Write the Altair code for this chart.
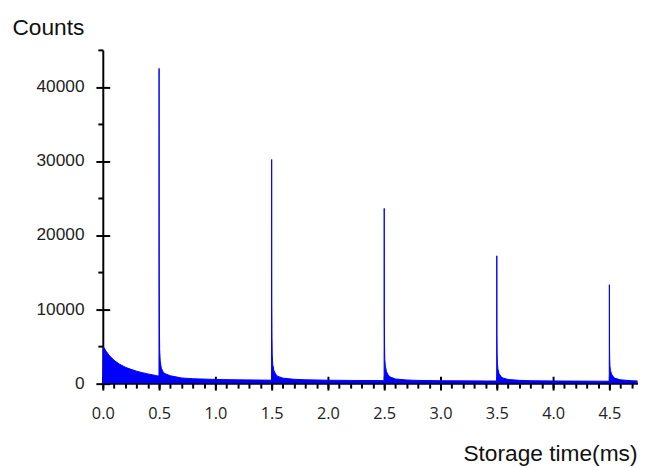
import altair as alt
import pandas as pd

# Storage time (ms) and counts
times = [
    0.0, 0.005, 0.01, 0.03, 0.06, 0.1, 0.15, 0.2, 0.25, 0.3, 0.35, 0.4, 0.45, 0.497,
    0.499, 0.5, 0.501, 0.503, 0.505, 0.51, 0.52, 0.535, 0.55, 0.6, 0.7, 0.8, 1.0, 1.2, 1.4, 1.497,
    1.499, 1.5, 1.501, 1.503, 1.505, 1.51, 1.52, 1.535, 1.55, 1.6, 1.7, 1.8, 2.0, 2.2, 2.4, 2.497,
    2.499, 2.5, 2.501, 2.503, 2.505, 2.51, 2.52, 2.535, 2.55, 2.6, 2.7, 2.8, 3.0, 3.2, 3.4, 3.497,
    3.499, 3.5, 3.501, 3.503, 3.505, 3.51, 3.52, 3.535, 3.55, 3.6, 3.7, 3.8, 4.0, 4.2, 4.4, 4.497,
    4.499, 4.5, 4.501, 4.503, 4.505, 4.51, 4.52, 4.535, 4.55, 4.6, 4.7, 4.75,
]
counts = [
    0, 4900, 4800, 4300, 3700, 3080, 2550, 2150, 1870, 1620, 1420, 1250, 1100, 950,
    1100, 42500, 14500, 7700, 4500, 3000, 2000, 1550, 1300, 1000, 700, 600, 500, 450, 420, 400,
    450, 30200, 11000, 6300, 3800, 2500, 1700, 1250, 950, 680, 520, 460, 400, 370, 350, 340,
    380, 23600, 8900, 5000, 3200, 2300, 1550, 1100, 850, 560, 430, 370, 330, 310, 300, 290,
    330, 17200, 6700, 4000, 2700, 1900, 1300, 950, 720, 500, 380, 330, 300, 280, 270, 260,
    300, 13300, 5300, 3300, 2300, 1700, 1200, 850, 650, 450, 330, 300,
]

x_major = [0.0, 0.5, 1.0, 1.5, 2.0, 2.5, 3.0, 3.5, 4.0, 4.5]
x_minor = [round(i * 0.1, 1) for i in range(48)]
y_major = [0, 10000, 20000, 30000, 40000]
y_minor = [5000, 15000, 25000, 35000, 45000]

df = pd.DataFrame({"t": times, "c": counts})

xs = alt.Scale(domain=[0, 4.75], nice=False, zero=False)
ys = alt.Scale(domain=[0, 45000], nice=False)

W, H = 541.5, 337.5

common_axis = dict(grid=False, tickColor="black", tickWidth=2)

main = alt.Chart(df).mark_area(
    color="#0000ff", opacity=1, line={"color": "#0000ff", "strokeWidth": 1}
).encode(
    x=alt.X("t:Q", scale=xs, axis=alt.Axis(
        orient="bottom",
        values=x_major, format=".1f", tickSize=7,
        domainWidth=2, domainColor="black",
        labelFont="Open Sans", labelFontSize=16.5, labelColor="#222",
        labelBaseline="middle", labelPadding=24, labelFlush=False,
        title="Storage time(ms)", titleFont="Liberation Sans", titleFontSize=23,
        titleFontWeight="normal", titleColor="#111", titleAlign="right",
        titleBaseline="alphabetic", titleX=541, titleY=78, titleAnchor="end",
        **common_axis)),
    y=alt.Y("c:Q", scale=ys, axis=alt.Axis(
        orient="left",
        values=y_major, format="d", tickSize=7,
        domainWidth=2, domainColor="black",
        labelFont="Liberation Sans", labelFontSize=17.5, labelColor="#222",
        labelPadding=12, labelFlush=False, labelBaseline="middle",
        title="Counts", titleFont="Liberation Sans", titleFontSize=23,
        titleFontWeight="normal", titleColor="#111", titleAngle=0,
        titleAlign="left", titleBaseline="alphabetic", titleX=-92, titleY=-16,
        **common_axis)),
).properties(width=W, height=H)

minor = alt.Chart(df).mark_area(opacity=0).encode(
    x=alt.X("t:Q", scale=xs, axis=alt.Axis(
        orient="bottom",
        values=x_minor, tickSize=5, labels=False, domain=False, title=None,
        **common_axis)),
    y=alt.Y("c:Q", scale=ys, axis=alt.Axis(
        orient="left",
        values=y_minor, tickSize=5, labels=False, domain=False, title=None,
        **common_axis)),
).properties(width=W, height=H)

inner = alt.Chart(df).mark_area(opacity=0).encode(
    x=alt.X("t:Q", scale=xs, axis=alt.Axis(
        orient="bottom",
        values=x_major, tickSize=7, offset=-7, labels=False, domain=False,
        title=None, **common_axis)),
    y=alt.Y("c:Q", scale=ys, axis=alt.Axis(
        orient="left",
        values=y_major, tickSize=7, offset=-7, labels=False, domain=False,
        title=None, **common_axis)),
).properties(width=W, height=H)

chart = alt.layer(minor, inner, main).resolve_axis(
    x="independent", y="independent"
).properties(
    autosize=alt.AutoSizeParams(type="none"),
    padding={"left": 96, "top": 39.5, "right": 1.5, "bottom": 84},
    background="white",
).configure_view(stroke=None)

chart.save("out.html", embed_options={"renderer": "svg", "actions": False})
